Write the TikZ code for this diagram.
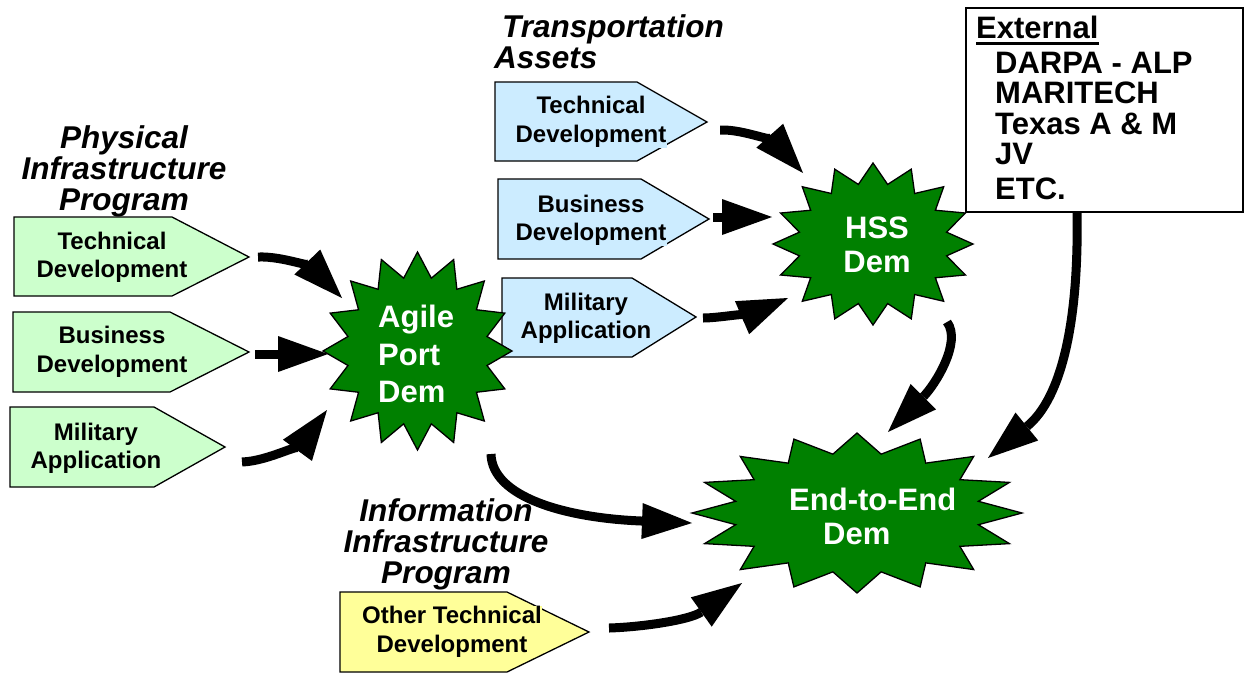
\documentclass[tikz,border=0pt]{standalone}
\usepackage{fontspec}
\setmainfont{Liberation Sans}
\usetikzlibrary{arrows.meta}

\definecolor{gfill}{RGB}{204,255,204}
\definecolor{bfill}{RGB}{204,236,255}
\definecolor{yfill}{RGB}{255,255,153}
\definecolor{dgreen}{RGB}{0,128,0}

% text line on a coloured patch, so that it hides the outline it overlaps
\newcommand\patch[2]{{\fboxsep=0.5pt\colorbox{#1}{#2}}}
% heavy underline
\newcommand\thickul[1]{\setbox0\hbox{#1}\rlap{\rule[-6.5pt]{\wd0}{2.8pt}}\box0}
% 16-point burst: centre (#1,#2), radii (#3,#4)
\newcommand\burst[4]{%
  \draw[burststyle] plot[samples at={0,...,31}]
    ({#1+#3*(0.875+0.125*cos(180*\x))*sin(11.25*\x)},
     {#2-#4*(0.875+0.125*cos(180*\x))*cos(11.25*\x)}) -- cycle;}

\tikzset{
  tagbox/.style={draw=black, line width=1.3pt, line join=miter},
  lbl/.style={font=\fontsize{24}{28.5}\selectfont\bfseries, align=center, inner sep=0pt},
  head/.style={font=\fontsize{31.5}{31}\selectfont\bfseries\itshape, align=center, inner sep=0pt},
  burststyle/.style={draw=black, line width=1.3pt, fill=dgreen, line join=miter},
  demtxt/.style={text=white, font=\fontsize{31}{37.5}\selectfont\bfseries, inner sep=0pt},
  flow/.style={line width=9pt, -{Triangle[length=50pt 0 0, width=36pt 0 0, line width=0pt]}},
}

\begin{document}
\begin{tikzpicture}[x=1pt, y=-1pt]
\useasboundingbox (0,0) rectangle (1246,673);

% ---- program headings
\node (physhead) [head] at (124,171) {Physical\\Infrastructure\\Program};
\node (transhead) [head, align=left, anchor=west] at (494,41.5) {\hspace*{8pt}Transportation\\Assets};
\node (infohead) [head] at (446,544) {Information\\Infrastructure\\Program};

% ---- physical infrastructure tags
\draw[tagbox, fill=gfill] (14,217) -- (172,217) -- (249,257) -- (172,296) -- (14,296) -- cycle;
\draw[tagbox, fill=gfill] (13,312) -- (170,312) -- (249,352) -- (170,392) -- (13,392) -- cycle;
\draw[tagbox, fill=gfill] (10,407) -- (154,407) -- (225,447) -- (154,487) -- (10,487) -- cycle;
\node (ptech) [lbl] at (112,257.5) {Technical\\Development};
\node (pbus)  [lbl] at (112,352) {Business\\Development};
\node (pmil)  [lbl] at (96,448.5) {Military\\Application};

% ---- transportation assets tags
\draw[tagbox, fill=bfill] (495,82) -- (637,82) -- (707,122) -- (637,161) -- (495,161) -- cycle;
\draw[tagbox, fill=bfill] (498,179) -- (641,179) -- (709,219) -- (641,259) -- (498,259) -- cycle;
\draw[tagbox, fill=bfill] (502,278) -- (632,278) -- (696,317) -- (632,357) -- (502,357) -- cycle;
\node (ttech) [lbl] at (591,122) {\patch{bfill}{Technical}\\\patch{bfill}{Development}};
\node (tbus)  [lbl] at (591,220.5) {\patch{bfill}{Business}\\\patch{bfill}{Development}};
\node (tmil)  [lbl] at (586,318.5) {\patch{bfill}{Military}\\\patch{bfill}{Application}};

% ---- information infrastructure tag
\draw[tagbox, fill=yfill] (340,592) -- (507,592) -- (589,632) -- (507,672) -- (340,672) -- cycle;
\node (itech) [lbl] at (452,632) {\patch{yfill}{Other Technical}\\\patch{yfill}{Development}};

% ---- demonstrations
\burst{417.5}{351}{94.5}{99}
\burst{873}{244}{100}{81}
\burst{857}{513}{165}{80}
\node (agile) [demtxt, align=left, anchor=west] at (378,354) {Agile\\Port\\Dem};
\node (hss)   [demtxt, align=center, font=\fontsize{31}{34}\selectfont\bfseries] at (877,245) {HSS\\Dem};
\node (e2e)   [demtxt, align=left, anchor=west, font=\fontsize{31}{34}\selectfont\bfseries] at (789,516) {End-to-End\\\hspace*{34pt}Dem};

% ---- external partners
\node (extbox) [draw=black, line width=1.3pt, fill=white, minimum width=277pt, minimum height=204pt, inner sep=0pt] at (1104.5,110) {};
\node (extlist) [anchor=north west, align=left, inner sep=0pt, font=\fontsize{31}{30.5}\selectfont\bfseries] at (976,16)
  {\thickul{External}\\[4pt]
   \hspace*{19pt}DARPA - ALP\\
   \hspace*{19pt}MARITECH\\
   \hspace*{19pt}Texas A \& M\\
   \hspace*{19pt}JV\\[4pt]
   \hspace*{19pt}ETC.};

% ---- connector end points
\coordinate (ptech-o) at (258,257);  \coordinate (agile-a) at (342,298);
\coordinate (pbus-o)  at (255,354);  \coordinate (agile-b) at (328,354);
\coordinate (pmil-o)  at (242,462);  \coordinate (agile-c) at (327,410);
\coordinate (ttech-o) at (720,130);  \coordinate (hss-a)   at (803,173);
\coordinate (tbus-o)  at (713,217);  \coordinate (hss-b)   at (772,217);
\coordinate (tmil-o)  at (703,318);  \coordinate (hss-c)   at (788,298);
\coordinate (agile-o) at (491,454);  \coordinate (e2e-a)   at (692,523);
\coordinate (hss-o)   at (947,322);  \coordinate (e2e-b)   at (888,432);
\coordinate (ext-o)   at (1077,212); \coordinate (e2e-c)   at (988,458);
\coordinate (itech-o) at (609,628);  \coordinate (e2e-d)   at (742,583);

% ---- flows
\draw[flow] (ptech-o) .. controls (285,256) and (315,270) .. (agile-a);
\draw[flow] (pbus-o) -- (agile-b);
\draw[flow] (pmil-o) .. controls (270,461) and (305,440) .. (agile-c);
\draw[flow] (ttech-o) .. controls (745,129) and (778,145) .. (hss-a);
\draw[flow] (tbus-o) -- (hss-b);
\draw[flow] (tmil-o) .. controls (722,318) and (760,310) .. (hss-c);
\draw[flow] (agile-o) .. controls (492,497) and (565,518) .. (e2e-a);
\draw[flow] (hss-o) .. controls (962,342) and (935,385) .. (e2e-b);
\draw[flow] (ext-o) .. controls (1079,320) and (1062,398) .. (e2e-c);
\draw[flow] (itech-o) .. controls (642,627) and (690,620) .. (e2e-d);
\end{tikzpicture}
\end{document}
